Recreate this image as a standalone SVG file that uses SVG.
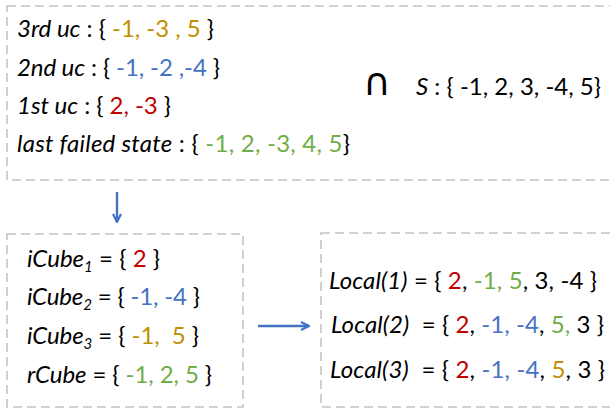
<svg xmlns="http://www.w3.org/2000/svg" width="610" height="416" viewBox="0 0 610 416">
<style>
.t{font-family:Lato,"Liberation Sans",sans-serif;font-size:24px;fill:#000;white-space:pre}
.i{font-style:italic}
.r{fill:#C00000}.b{fill:#4472C4}.g{fill:#70AD47}.y{fill:#BF9000}
.sub{font-size:15px}
.box{fill:none;stroke:#C4C4C4;stroke-width:1.6;stroke-dasharray:9 5}
.arr{fill:none;stroke:#4472C4;stroke-width:2.4}
</style>
<defs>
<marker id="ah" viewBox="0 0 10 10" refX="9" refY="5" markerWidth="10" markerHeight="10" markerUnits="userSpaceOnUse" orient="auto">
<path d="M1,1 L9,5 L1,9" fill="none" stroke="#4472C4" stroke-width="2.2"/>
</marker>
</defs>
<g id="top">
<rect class="box" x="7" y="6" width="620" height="174"/>
<text class="t" x="17" y="37" textLength="197"><tspan class="i">3rd uc</tspan> : { <tspan class="y">-1, -3 , 5</tspan> }</text>
<text class="t" x="17" y="76" textLength="203"><tspan class="i">2nd uc</tspan> : { <tspan class="b">-1, -2 ,-4</tspan> }</text>
<text class="t" x="17" y="114" textLength="154"><tspan class="i">1st uc</tspan> : { <tspan class="r">2, -3</tspan> }</text>
<text class="t" x="17" y="152" textLength="333"><tspan class="i">last failed state</tspan> : { <tspan class="g">-1, 2, -3, 4, 5</tspan>}</text>
<text x="363" y="95" style="font-family:'DejaVu Sans',sans-serif;font-size:38px;fill:#000">∩</text>
<text class="t" x="416" y="95" textLength="185"><tspan class="i">S</tspan> : { -1, 2, 3, -4, 5}</text>
</g>
<g id="cubes">
<rect class="box" x="7" y="234" width="236" height="173"/>
<text class="t" x="27" y="267" textLength="133"><tspan class="i">iCube</tspan><tspan class="i sub" dy="5">1</tspan><tspan dy="-5"> = { </tspan><tspan class="r">2</tspan> }</text>
<text class="t" x="27" y="305" textLength="173"><tspan class="i">iCube</tspan><tspan class="i sub" dy="5">2</tspan><tspan dy="-5"> = { </tspan><tspan class="b">-1, -4</tspan> }</text>
<text class="t" x="27" y="344" textLength="172"><tspan class="i">iCube</tspan><tspan class="i sub" dy="5">3</tspan><tspan dy="-5"> = { </tspan><tspan class="y">-1,  5</tspan> }</text>
<text class="t" x="27" y="383" textLength="185"><tspan class="i">rCube</tspan> = { <tspan class="g">-1, 2, 5</tspan> }</text>
</g>
<g id="locals">
<rect class="box" x="321" y="233" width="310" height="174"/>
<text class="t" x="329" y="289" textLength="268"><tspan class="i">Local(1)</tspan> = { <tspan class="r">2</tspan>, <tspan class="g">-1, 5</tspan>, 3, -4 }</text>
<text class="t" x="331" y="333" textLength="273"><tspan class="i">Local(2)</tspan>  = { <tspan class="r">2</tspan>, <tspan class="b">-1, -4</tspan>, <tspan class="g">5,</tspan> 3 }</text>
<text class="t" x="330" y="378" textLength="275"><tspan class="i">Local(3)</tspan>  = { <tspan class="r">2</tspan>, <tspan class="b">-1, -4</tspan>, <tspan class="y">5</tspan>, 3 }</text>
</g>
<g id="connectors">
<line class="arr" x1="117" y1="192" x2="117" y2="222" marker-end="url(#ah)"/>
<line class="arr" x1="258" y1="326" x2="309" y2="326" marker-end="url(#ah)"/>
</g>
</svg>
